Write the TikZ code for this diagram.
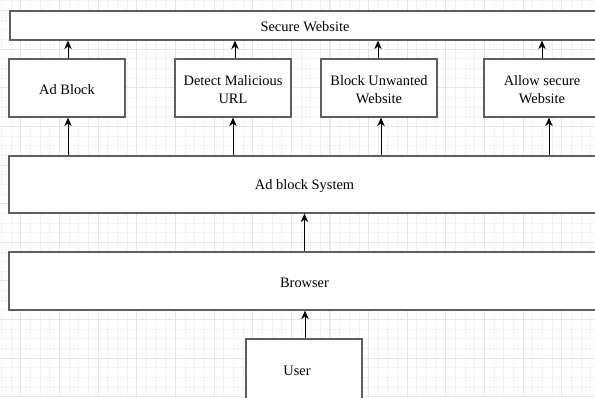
\documentclass[tikz,border=0pt]{standalone}
\usepackage{fontspec}
\setmainfont{Liberation Serif}
\usetikzlibrary{arrows.meta}
\definecolor{boxgray}{HTML}{5E5E5E}
\definecolor{gridminor}{HTML}{F2F2F2}
\definecolor{gridmajor}{HTML}{E6E6E6}
\tikzset{
  box/.style={draw=boxgray, line width=1.3pt, fill=white, inner sep=0pt},
  txt/.style={inner sep=0pt, align=center, yshift=-2pt,
    font=\fontsize{14.4}{18}\selectfont},
  arr/.style={draw=black, line width=0.9pt, -{Stealth[length=8.5pt,width=7.5pt]}}
}
\begin{document}
\begin{tikzpicture}[x=1pt,y=-1pt]
\useasboundingbox (0,0) rectangle (595,397);
\clip (0,0) rectangle (595,397);
\fill[white] (0,0) rectangle (595,397);
% grid
\foreach \i in {0,...,62} {
  \draw[gridminor, line width=0.6pt] ({1.38+9.66*\i},0) -- ({1.38+9.66*\i},397);
}
\foreach \j in {0,...,41} {
  \draw[gridminor, line width=0.6pt] (0,{0.64+9.66*\j}) -- (595,{0.64+9.66*\j});
}
\foreach \i in {0,...,15} {
  \draw[gridmajor, line width=0.7pt] ({20.7+38.64*\i},0) -- ({20.7+38.64*\i},397);
}
\foreach \j in {0,...,10} {
  \draw[gridmajor, line width=0.7pt] (0,{10.3+38.64*\j}) -- (595,{10.3+38.64*\j});
}
% boxes
\node[box, minimum width=590pt, minimum height=29pt,
  label={[txt, yshift=1pt]center:Secure Website}] (sec) at (305,25.5) {};
\node[box, minimum width=116pt, minimum height=58pt,
  label={[txt]center:Ad Block}] (adb) at (67,88) {};
\node[box, minimum width=116pt, minimum height=58pt,
  label={[txt]center:{Detect Malicious\\URL}}] (det) at (233,88) {};
\node[box, minimum width=116pt, minimum height=58pt,
  label={[txt]center:{Block Unwanted\\Website}}] (blk) at (379,88) {};
\node[box, minimum width=116pt, minimum height=58pt,
  label={[txt]center:{Allow secure\\Website}}] (alw) at (542,88) {};
\node[box, minimum width=591pt, minimum height=57pt,
  label={[txt]center:Ad block System}] (sys) at (304.5,184.5) {};
\node[box, minimum width=591pt, minimum height=58pt,
  label={[txt]center:Browser}] (brw) at (304.5,281) {};
\node[box, minimum width=116pt, minimum height=60pt,
  label={[txt, xshift=-7pt]center:User}] (usr) at (304,369) {};
% arrows
\draw[arr] ([xshift=1pt]adb.north) -- ([xshift=1pt]adb.north |- sec.south);
\draw[arr] ([xshift=2pt]det.north) -- ([xshift=2pt]det.north |- sec.south);
\draw[arr] ([xshift=-1pt]blk.north) -- ([xshift=-1pt]blk.north |- sec.south);
\draw[arr] (alw.north) -- (alw.north |- sec.south);
\draw[arr] ([xshift=1pt]adb.south |- sys.north) -- ([xshift=1pt]adb.south);
\draw[arr] (det.south |- sys.north) -- (det.south);
\draw[arr] ([xshift=2pt]blk.south |- sys.north) -- ([xshift=2pt]blk.south);
\draw[arr] ([xshift=7pt]alw.south |- sys.north) -- ([xshift=7pt]alw.south);
\draw[arr] (brw.north) -- (sys.south);
\draw[arr] ([xshift=1pt]usr.north) -- ([xshift=1pt]usr.north |- brw.south);
\end{tikzpicture}
\end{document}
